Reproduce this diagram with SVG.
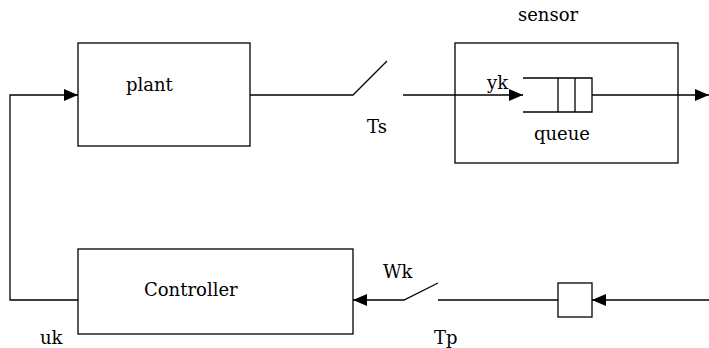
<svg xmlns="http://www.w3.org/2000/svg" width="709" height="348" viewBox="0 0 709 348">
<style>
.b{fill:#fff;stroke:#000;stroke-width:1.3}
.l{fill:none;stroke:#000;stroke-width:1.3}
text{font-family:'DejaVu Serif', serif;font-size:18px;fill:#000}
</style>
<defs>
<marker id="a" markerWidth="14" markerHeight="12" refX="14" refY="6" orient="auto" markerUnits="userSpaceOnUse">
<path d="M0,0 L14,6 L0,12 Z" fill="#000"/>
</marker>
</defs>
<rect width="709" height="348" fill="#fff"/>
<g id="plant"><rect class="b" x="78" y="43" width="172" height="103"/><text x="126" y="91">plant</text></g>
<g id="sensor"><rect class="b" x="455" y="43" width="223" height="120"/>
<text x="548" y="21" text-anchor="middle">sensor</text>
<path class="l" d="M523,78 H592 V112 H523 M558,78 V112 M575,78 V112"/>
<text x="562" y="140" text-anchor="middle">queue</text></g>
<g id="controller"><rect class="b" x="78" y="249" width="275" height="85"/><text x="144" y="296">Controller</text></g>
<g id="buffer"><rect class="b" x="558" y="283" width="34" height="34"/></g>
<g id="connectors">
<path class="l" d="M250,95 H353 L387,61"/>
<path class="l" d="M403,95 H523" marker-end="url(#a)"/>
<path class="l" d="M592,95 H709" marker-end="url(#a)"/>
<path class="l" d="M78,300 H10 V95 H78" marker-end="url(#a)"/>
<path class="l" d="M709,300 H592" marker-end="url(#a)"/>
<path class="l" d="M558,300 H438"/>
<path class="l" d="M438,283 L404,300 H353" marker-end="url(#a)"/>
</g>
<g id="labels">
<text x="487" y="89">yk</text>
<text x="367" y="133">Ts</text>
<text x="383" y="278">Wk</text>
<text x="434" y="344">Tp</text>
<text x="40" y="344">uk</text>
</g>
</svg>
